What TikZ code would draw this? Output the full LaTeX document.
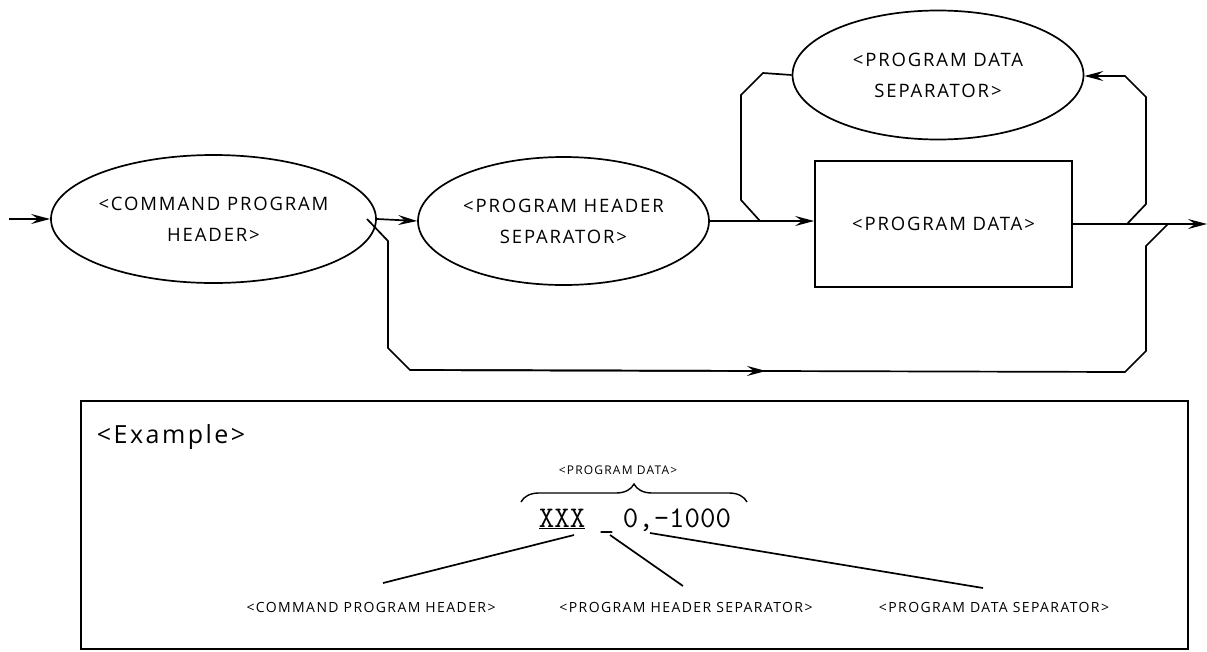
\documentclass[tikz,border=0pt]{standalone}
\usepackage{fontspec}
\setmainfont{Open Sans}
\newfontfamily\lblfont{Open Sans}[LetterSpace=10]
\usetikzlibrary{shapes.geometric,arrows.meta,decorations.pathreplacing}
\begin{document}
\begin{tikzpicture}[x=1pt,y=-1pt,line width=1.7pt,line join=miter,
  arr/.style={-{Stealth[length=19pt,width=10pt,inset=7pt]}},
  oval/.style={ellipse,draw,inner sep=0pt,minimum width=291pt,minimum height=128pt,align=center,
    font=\lblfont\fontsize{18.5}{31}\selectfont},
  boxnode/.style={draw,inner sep=0pt,minimum width=257pt,minimum height=126pt,
    font=\lblfont\fontsize{18.5}{31}\selectfont},
  small/.style={inner sep=0pt,font=\lblfont\fontsize{14}{16}\selectfont},
  mono/.style={inner sep=0pt,anchor=base west,font=\ttfamily\fontsize{30}{32}\selectfont}]
\useasboundingbox (0,0) rectangle (1207,651);

% syntax diagram
\node[oval] (e1) at (213.5,219) {<COMMAND PROGRAM\\HEADER>};
\node[oval] (e2) at (563.5,221) {<PROGRAM HEADER\\SEPARATOR>};
\node[oval,minimum height=129pt] (e3) at (938,75) {<PROGRAM DATA\\SEPARATOR>};
\node[boxnode] (pd) at (943.5,224) {<PROGRAM DATA>};

\coordinate (in) at (9,219);
\coordinate (out) at (1207,224);
\draw[arr] (in) -- (e1.west);
\draw[arr] (e1.east) -- (e2.west);
\draw[arr] (e2.east) -- (pd.west |- e2.east);
\draw[arr] (pd.east) -- (out);

% loop back through data separator
\coordinate (r0) at (1127,224);
\coordinate (r1) at (1146,204);
\coordinate (r2) at (1146,97);
\coordinate (r3) at (1125,76);
\draw[arr] (r0) -- (r1) -- (r2) -- (r3) -- (e3.east |- r3);
\coordinate (q1) at (763,73);
\coordinate (q2) at (741,95);
\coordinate (q3) at (741,200);
\coordinate (q4) at (760,221);
\draw (e3.west) -- (q1) -- (q2) -- (q3) -- (q4);

% bypass
\coordinate (b0) at (367,219);
\coordinate (b1) at (388,241);
\coordinate (b2) at (388,348);
\coordinate (b3) at (410,370);
\coordinate (bm) at (766,371);
\coordinate (b4) at (1125,372);
\coordinate (b5) at (1146,351);
\coordinate (b6) at (1146,246);
\coordinate (b7) at (1168,224);
\draw (b0) -- (b1) -- (b2) -- (b3) -- (b4) -- (b5) -- (b6) -- (b7);
\draw[arr] (b3) -- (bm);

% example box
\node[draw,line width=2pt,inner sep=0pt,minimum width=1107pt,minimum height=248pt,anchor=north west] (ex) at (80,400) {};
\node[anchor=west,inner sep=0pt,font=\lblfont\fontsize{25}{28}\selectfont] (exl) at (96,437) {<Example>};
\node[small,font=\lblfont\fontsize{12}{14}\selectfont] (pdl) at (618,470) {<PROGRAM DATA>};
\coordinate (brl) at (521,502);
\coordinate (brr) at (747,502);
\draw[line width=1.4pt,decorate,decoration={brace,amplitude=18pt,aspect=0.5}] (brl) -- (brr);

\node[mono] (xxx) at (538,527) {\underline{XXX}};
\node[mono] (hs) at (598,527) {\_};
\node[mono] (dat) at (622,527) {0,-1000};

\node[small] (cph) at (371,607) {<COMMAND PROGRAM HEADER>};
\node[small] (phs) at (686,607) {<PROGRAM HEADER SEPARATOR>};
\node[small] (pds) at (994,607) {<PROGRAM DATA SEPARATOR>};

\coordinate (l1a) at (574,535);
\coordinate (l1b) at (383,583);
\coordinate (l2a) at (610,535);
\coordinate (l2b) at (683,586);
\coordinate (l3a) at (650,533);
\coordinate (l3b) at (983,588);
\draw (l1a) -- (l1b);
\draw (l2a) -- (l2b);
\draw (l3a) -- (l3b);
\end{tikzpicture}
\end{document}
